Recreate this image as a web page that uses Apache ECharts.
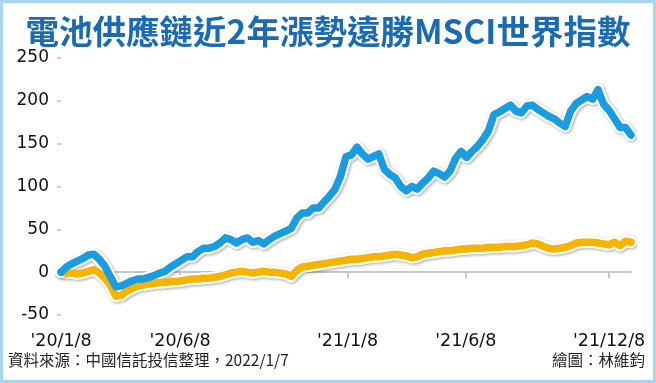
<!DOCTYPE html>
<html><head><meta charset="utf-8">
<script src="https://cdn.jsdelivr.net/npm/echarts@6/dist/echarts.min.js"></script>
<style>
html,body{margin:0;padding:0;background:#fff}
#c{position:absolute;left:0;top:0;width:656px;height:383px}
#frame{position:absolute;left:0;top:0;width:656px;height:383px;box-sizing:border-box;border:3px solid #a8d6f0;pointer-events:none}
</style></head><body>
<div id="c"></div><div id="frame"></div>
<script>
const weeks=['2020-01-08','2020-01-15','2020-01-22','2020-01-29','2020-02-05','2020-02-12','2020-02-19','2020-02-26','2020-03-04','2020-03-11','2020-03-18','2020-03-25','2020-04-01','2020-04-08','2020-04-15','2020-04-22','2020-04-29','2020-05-06','2020-05-13','2020-05-20','2020-05-27','2020-06-03','2020-06-10','2020-06-17','2020-06-24','2020-07-01','2020-07-08','2020-07-15','2020-07-22','2020-07-29','2020-08-05','2020-08-12','2020-08-19','2020-08-26','2020-09-02','2020-09-09','2020-09-16','2020-09-23','2020-09-30','2020-10-07','2020-10-14','2020-10-21','2020-10-28','2020-11-04','2020-11-11','2020-11-18','2020-11-25','2020-12-02','2020-12-09','2020-12-16','2020-12-23','2020-12-30',
'2021-01-06','2021-01-13','2021-01-20','2021-01-27','2021-02-03','2021-02-10','2021-02-17','2021-02-24','2021-03-03','2021-03-10','2021-03-17','2021-03-24','2021-03-31','2021-04-07','2021-04-14','2021-04-21','2021-04-28','2021-05-05','2021-05-12','2021-05-19','2021-05-26','2021-06-02','2021-06-09','2021-06-16','2021-06-23','2021-06-30','2021-07-07','2021-07-14','2021-07-21','2021-07-28','2021-08-04','2021-08-11','2021-08-18','2021-08-25','2021-09-01','2021-09-08','2021-09-15','2021-09-22','2021-09-29','2021-10-06','2021-10-13','2021-10-20','2021-10-27','2021-11-03','2021-11-10','2021-11-17','2021-11-24','2021-12-01','2021-12-08','2021-12-15','2021-12-22','2021-12-29','2022-01-05'];

const batteryChain=[0,6,10,13,16,20,21,15,7,-5,
-17,-16,-13,-10,-8,-8,-6,-4,-1,1,
6,10,14,18,18,24,28,28,30,34,
40,38,34,38,40,35,37,33,38,42,
45,48,51,63,69,69,75,75,82,89,
97,112,135,137,146,138,132,135,138,120,
114,110,100,95,100,97,104,110,118,115,
111,118,133,141,134,141,147,155,165,184,
187,191,195,188,186,194,195,190,186,182,
179,174,170,188,197,201,205,202,213,196,
189,179,169,169,160];

const msciWorld=[0,-1,-1,-2,-1,1,3,-1,-7,-15,
-28,-27,-22,-19,-16,-15,-14,-13,-12,-12,
-11,-11,-10,-9,-8,-8,-7,-7,-6,-5,
-3,-1,0,1,0,-1,0,1,0,0,
-1,-2,-5,2,6,7,8,9,10,11,
12,13,14,15,15,16,17,18,18,19,
20,21,20,19,17,18,21,22,23,24,
25,25,26,27,27,28,28,28,29,29,
29,30,30,30,31,32,34,33,30,28,
27,28,29,31,34,35,35,35,34,33,
32,35,31,36,35];

const tickDates=['2020-01-08','2020-06-08','2021-01-08','2021-06-08','2021-12-08'];
const tickLabels=["'20/1/8","'20/6/8","'21/1/8","'21/6/8","'21/12/8"];
const yMin=-50, yMax=250, yStep=50;

const titleText='電池供應鏈近2年漲勢遠勝MSCI世界指數';
const sourceText='資料來源：中國信託投信整理，2022/1/7';
const authorText='繪圖：林維鈞';

// daily category axis spanning the data period
const days=[];
for(let t=Date.UTC(2020,0,8); t<=Date.UTC(2022,0,5); t+=86400000){
  days.push(new Date(t).toISOString().slice(0,10));
}
const isTick=(i,v)=>tickDates.indexOf(v)>=0;

const blue='#1a9de0', orange='#f6b300';
const pair=(arr)=>weeks.map((w,i)=>[w,arr[i]]);

function mk(name,arr,color){
  return [{
    type:'line',name:name+'halo',data:pair(arr),xAxisIndex:0,showSymbol:false,symbol:'none',
    lineStyle:{color:'#ffffff',width:12,cap:'round',join:'round',shadowColor:'rgba(0,0,0,0.35)',shadowBlur:3,shadowOffsetX:1,shadowOffsetY:1},
    silent:true,z:2
  },{
    type:'line',name:name,data:pair(arr),xAxisIndex:0,showSymbol:false,symbol:'none',
    lineStyle:{color:color,width:7.5,cap:'round',join:'round'},
    silent:true,z:3
  }];
}

const chart=echarts.init(document.getElementById('c'),null,{renderer:'canvas'});
chart.setOption({
  animation:false,
  backgroundColor:'#ffffff',
  title:{text:titleText,left:'center',top:10,
    textStyle:{fontFamily:'"Noto Sans CJK TC"',fontWeight:'bold',fontSize:33.5,color:'#1a6bb3'}},
  grid:{left:61,right:25,top:58,bottom:68,containLabel:false},
  xAxis:[{
    type:'category',data:days,boundaryGap:false,
    axisLine:{show:true,onZero:true,lineStyle:{color:'#c8c8c8',width:2}},
    axisTick:{show:true,interval:isTick,length:6,lineStyle:{color:'#c8c8c8',width:2}},
    axisLabel:{show:false},splitLine:{show:false}
  },{
    type:'category',data:days,boundaryGap:false,position:'bottom',
    axisLine:{show:false,onZero:false},axisTick:{show:false},splitLine:{show:false},
    axisLabel:{show:true,interval:isTick,margin:17,fontSize:17.5,color:'#111',fontFamily:'"DejaVu Sans"',
      formatter:(v)=>tickLabels[tickDates.indexOf(v)]}
  }],
  yAxis:{type:'value',min:yMin,max:yMax,interval:yStep,
    axisLine:{show:false},splitLine:{show:false},
    axisTick:{show:true,length:4,lineStyle:{color:'#bdbdbd',width:1.5}},
    axisLabel:{margin:12,fontSize:17,color:'#111',fontFamily:'"DejaVu Sans"'}},
  series:[...mk('MSCI世界指數',msciWorld,orange),...mk('電池供應鏈',batteryChain,blue)],
  graphic:[
    {type:'text',left:8,top:352,style:{text:sourceText,fontSize:15.5,fill:'#222',fontFamily:'"Noto Sans CJK TC"'}},
    {type:'text',right:11,top:352,style:{text:authorText,fontSize:15.5,fill:'#222',fontFamily:'"Noto Sans CJK TC"'}}
  ]
});
</script>
</body></html>
